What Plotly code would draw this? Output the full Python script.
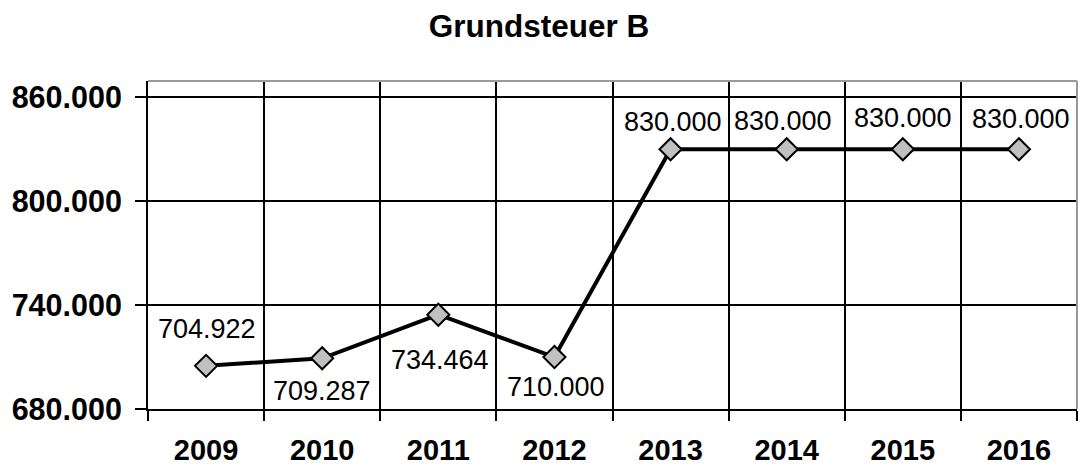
import plotly.graph_objects as go

years = ["2009", "2010", "2011", "2012", "2013", "2014", "2015", "2016"]
values = [704922, 709287, 734464, 710000, 830000, 830000, 830000, 830000]
y_ticks = [680000, 740000, 800000, 860000]

# label placement offsets (pixels): dx right, dy up
label_dx = [1, 0, 2, 2, 2, -4, 0, 2]
label_dy = [37, -33, -45, -30, 27, 28, 31, 30]

FONT = "Liberation Sans, Arial, sans-serif"

fig = go.Figure()
fig.add_trace(go.Scatter(
    x=years, y=values, mode="lines+markers",
    line=dict(color="black", width=4),
    marker=dict(symbol="diamond", size=17, color="#c0c0c0",
                line=dict(color="black", width=2)),
    hoverinfo="skip", showlegend=False,
))

for i, (v, dx, dy) in enumerate(zip(values, label_dx, label_dy)):
    fig.add_annotation(
        x=i, y=v, xref="x", yref="y",
        text=f"{v:,.0f}".replace(",", "."),
        showarrow=False, xshift=dx, yshift=dy,
        font=dict(family=FONT, size=27, color="black"),
    )

# plot area border (top and right), grey
fig.add_shape(type="line", xref="paper", yref="paper", x0=0, x1=1, y0=1, y1=1,
              line=dict(color="#9a9a9a", width=2), layer="above")
fig.add_shape(type="line", xref="paper", yref="paper", x0=1, x1=1, y0=0, y1=1,
              line=dict(color="#9a9a9a", width=2), layer="above")

fig.update_layout(
    width=1078, height=466,
    margin=dict(l=148, r=1, t=81, b=57, autoexpand=False),
    paper_bgcolor="white", plot_bgcolor="white",
    separators=",.",
    title=dict(text="Grundsteuer B", x=0.5, xanchor="center",
               y=1 - 26 / 466, yanchor="middle", yref="container",
               font=dict(family=FONT, size=31.5, color="black", weight="bold")),
    xaxis=dict(
        type="category", categoryorder="array", categoryarray=years,
        range=[-0.5, 7.5], tickson="boundaries", automargin=False,
        showgrid=True, gridcolor="black", gridwidth=2,
        showline=True, linecolor="black", linewidth=2,
        ticks="outside", ticklen=10, tickwidth=2, tickcolor="black",
        ticklabelstandoff=14,
        tickfont=dict(family=FONT, size=29, color="black", weight="bold"),
        zeroline=False,
    ),
    yaxis=dict(
        range=[680000, 869400], tickvals=y_ticks, automargin=False,
        tickformat=",.0f",
        showgrid=True, gridcolor="black", gridwidth=2,
        showline=True, linecolor="black", linewidth=2,
        ticks="outside", ticklen=11, tickwidth=2, tickcolor="black",
        ticklabelstandoff=7,
        tickfont=dict(family=FONT, size=30.5, color="black", weight="bold"),
        zeroline=False,
    ),
)

fig.write_html("out.html", config={"displayModeBar": False},
               post_script="document.body.style.margin='0';")
